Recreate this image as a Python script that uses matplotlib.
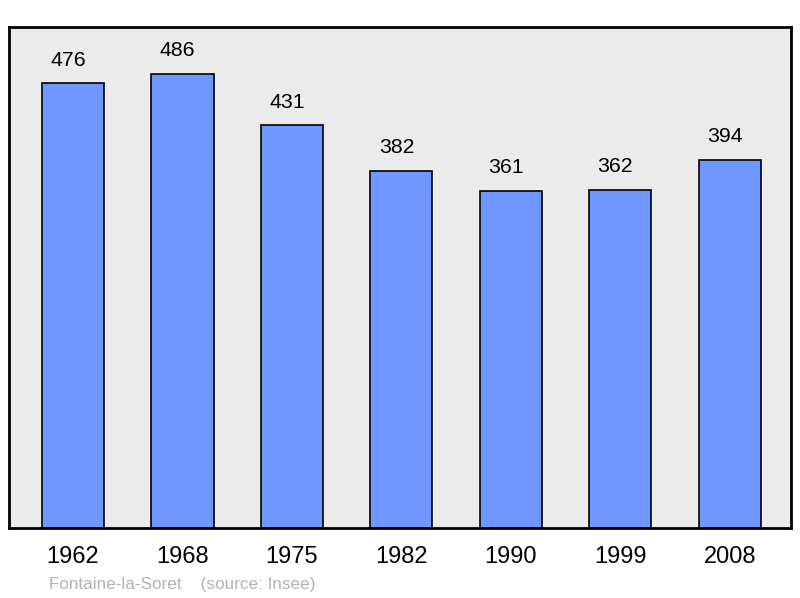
import matplotlib.pyplot as plt

plt.rcParams['font.family'] = ['Liberation Sans', 'DejaVu Sans']

years = ['1962', '1968', '1975', '1982', '1990', '1999', '2008']
population = [476, 486, 431, 382, 361, 362, 394]

fig = plt.figure(figsize=(8, 5.98), dpi=100)
ax = fig.add_axes([0.01125, 0.117, 0.9775, 0.838])
ax.set_facecolor('#ebebeb')

x = range(len(years))
ax.bar(x, population, width=0.567, color='#7096ff', edgecolor='black', linewidth=1.2)

# les étiquettes de valeur sont un peu décalées à gauche dans l'original
for i, v in enumerate(population):
    ax.annotate(str(v), (i, v), xytext=(-3.5, 16.5), textcoords='offset points',
                ha='center', va='center', fontsize=15.3)

ax.set_xlim(-0.585, 6.56)
ax.set_ylim(0, 536)
ax.set_yticks([])
ax.set_xticks(list(x))
ax.set_xticklabels(years, fontsize=17)
ax.tick_params(axis='x', length=0, pad=13)
for s in ax.spines.values():
    s.set_linewidth(2)

fig.text(49 / 800, 1 - 584 / 598, 'Fontaine-la-Soret    (source: Insee)',
         color='#b3b3b3', fontsize=12.3, va='center', ha='left')

plt.savefig('out.png')
